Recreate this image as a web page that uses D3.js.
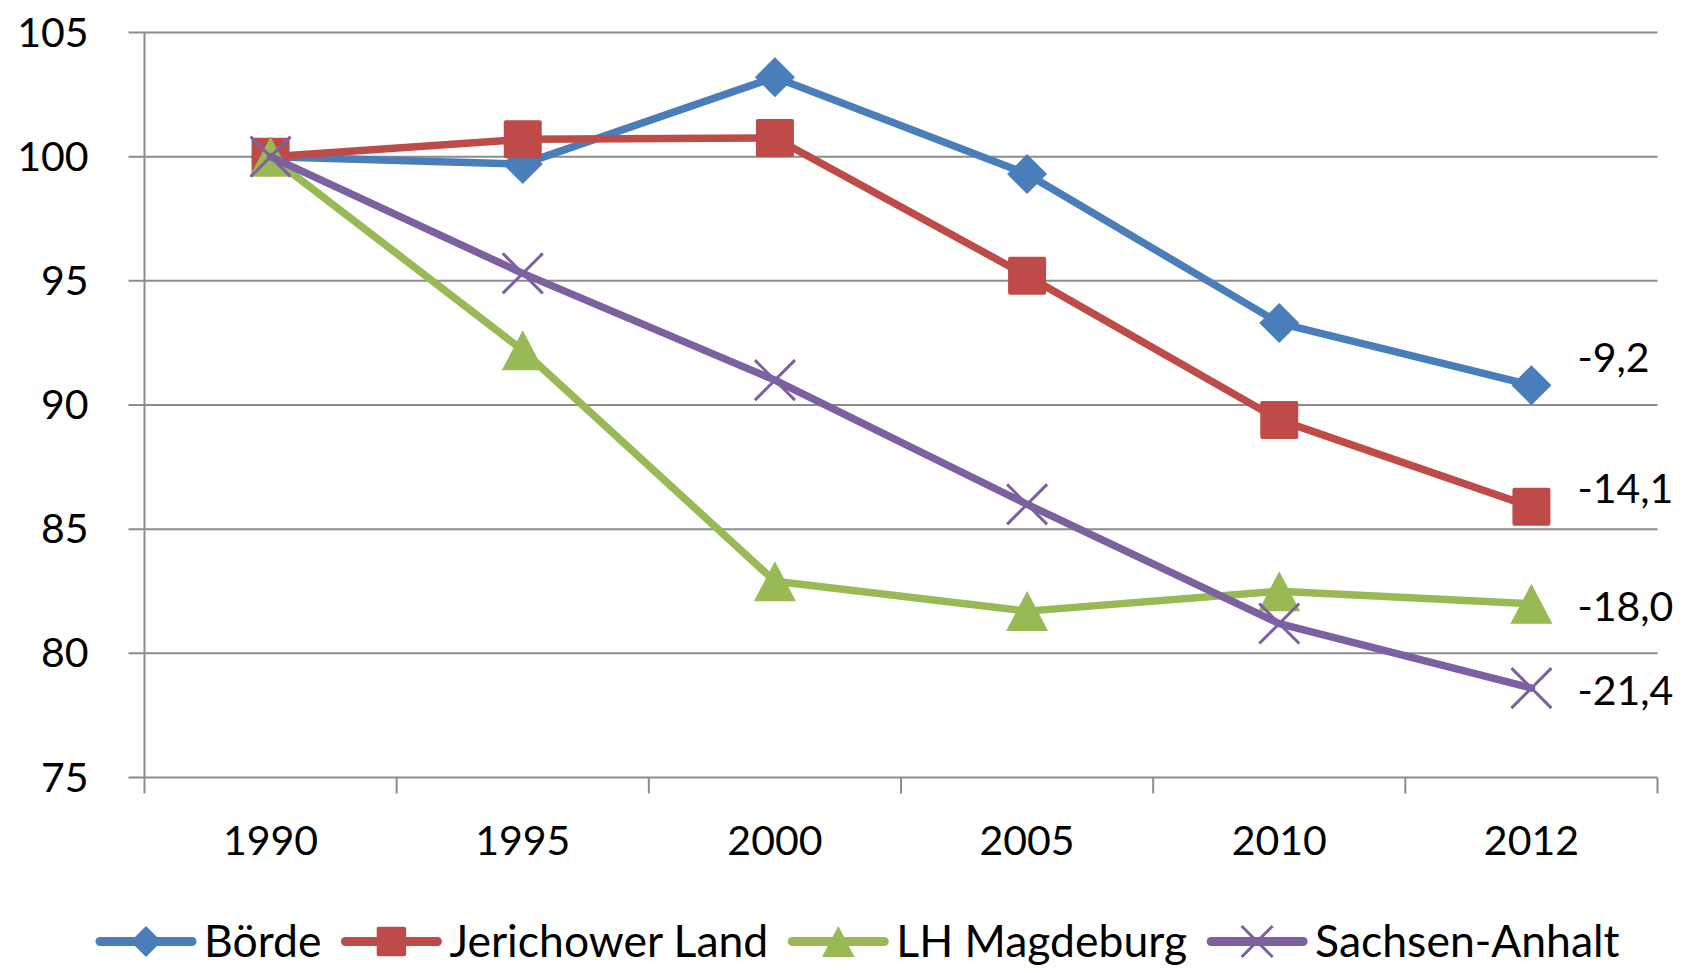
<!DOCTYPE html>
<html>
<head>
<meta charset="utf-8">
<script src="https://cdnjs.cloudflare.com/ajax/libs/d3/7.8.5/d3.min.js"></script>
<style>
  html, body { margin: 0; padding: 0; background: #fff; }
  #chart { width: 1691px; height: 973px; }
  .chart text { font-family: Lato, "Open Sans", sans-serif; fill: #000; }
  .chart__axis .domain { display: none; }
</style>
</head>
<body>
<div id="chart"></div>
<script>
const years = ['1990', '1995', '2000', '2005', '2010', '2012'];
const seriesNames = ['Börde', 'Jerichower Land', 'LH Magdeburg', 'Sachsen-Anhalt'];
const boerde = [100, 99.7, 103.2, 99.3, 93.3, 90.8];
const jerichow = [100, 100.7, 100.75, 95.2, 89.4, 85.9];
const magdeburg = [100, 92.2, 82.9, 81.7, 82.5, 82.0];
const sachsenAnhalt = [100, 95.3, 91.0, 86.0, 81.2, 78.6];
const endLabels = ['-9,2', '-14,1', '-18,0', '-21,4'];
const yTicks = [75, 80, 85, 90, 95, 100, 105];

const colors = ['#4a7ebb', '#be4b48', '#98b954', '#7d60a0'];
const markers = ['diamond', 'square', 'triangle', 'cross'];
const values = [boerde, jerichow, magdeburg, sachsenAnhalt];

function visualize() {
  const margins = { top: 32.5, right: 33.5, bottom: 195.5, left: 144.5 };
  const canvasWidth = 1691;
  const canvasHeight = 973;
  const width = canvasWidth - margins.left - margins.right;
  const height = canvasHeight - margins.top - margins.bottom;

  const svg = d3.select('#chart')
    .append('svg')
    .attr('class', 'chart')
    .attr('width', canvasWidth)
    .attr('height', canvasHeight);

  const x = d3.scaleBand()
    .domain(years)
    .range([0, width]);
  const y = d3.scaleLinear()
    .domain([75, 105])
    .range([height, 0]);

  const chart = svg.append('g')
    .attr('transform', `translate(${margins.left}, ${margins.top})`);

  // gridlines
  chart.append('g')
    .selectAll('line')
    .data(yTicks)
    .enter()
    .append('line')
      .attr('x1', -16)
      .attr('x2', width)
      .attr('y1', d => y(d))
      .attr('y2', d => y(d))
      .attr('stroke', '#8c8c8c')
      .attr('stroke-width', 2);

  // y axis line
  chart.append('line')
    .attr('x1', 0).attr('x2', 0)
    .attr('y1', 0).attr('y2', height)
    .attr('stroke', '#8c8c8c')
    .attr('stroke-width', 2);

  // x ticks at category boundaries
  chart.append('g')
    .selectAll('line')
    .data(d3.range(years.length + 1))
    .enter()
    .append('line')
      .attr('x1', i => i * x.step())
      .attr('x2', i => i * x.step())
      .attr('y1', height)
      .attr('y2', height + 16)
      .attr('stroke', '#8c8c8c')
      .attr('stroke-width', 2);

  // y axis labels
  const axisY = d3.axisLeft(y).tickValues(yTicks).tickSize(0).tickPadding(56);
  chart.append('g')
    .attr('class', 'chart__axis chart__axis--y')
    .call(axisY)
    .selectAll('text')
      .attr('font-size', 41)
      .attr('dy', '0.33em');

  // x axis labels
  const axisX = d3.axisBottom(x).tickSize(0).tickPadding(48);
  chart.append('g')
    .attr('class', 'chart__axis chart__axis--x')
    .attr('transform', `translate(0, ${height})`)
    .call(axisX)
    .selectAll('text')
      .attr('font-size', 41)
      .attr('dy', '0.71em');

  chart.selectAll('.chart__axis .tick line').remove();

  const cx = d => x(d) + x.bandwidth() / 2;

  function marker(g, type, color, size) {
    const s = size / 2;
    if (type === 'diamond') {
      g.append('path')
        .attr('d', `M0,${-s}L${s},0L0,${s}L${-s},0Z`)
        .attr('fill', color);
    } else if (type === 'square') {
      g.append('rect')
        .attr('x', -s * 0.95).attr('y', -s * 0.95)
        .attr('width', s * 1.9).attr('height', s * 1.9)
        .attr('rx', 2)
        .attr('fill', color);
    } else if (type === 'triangle') {
      g.append('path')
        .attr('d', `M0,${-s}L${s * 1.05},${s}L${-s * 1.05},${s}Z`)
        .attr('fill', color);
    } else {
      g.append('path')
        .attr('d', `M${-s},${-s}L${s},${s}M${s},${-s}L${-s},${s}`)
        .attr('stroke', color)
        .attr('stroke-width', 3)
        .attr('fill', 'none');
    }
  }

  const line = d3.line()
    .x(d => cx(d.year))
    .y(d => y(d.value));

  values.forEach((vals, i) => {
    const pts = vals.map((v, j) => ({ year: years[j], value: v }));
    const g = chart.append('g').attr('class', 'chart__series');
    g.append('path')
      .datum(pts)
      .attr('d', line)
      .attr('fill', 'none')
      .attr('stroke', colors[i])
      .attr('stroke-width', 7.5)
      .attr('stroke-linejoin', 'round')
      .attr('stroke-linecap', 'round');
    g.selectAll('.chart__marker')
      .data(pts)
      .enter()
      .append('g')
        .attr('class', 'chart__marker')
        .attr('transform', d => `translate(${cx(d.year)}, ${y(d.value)})`)
        .each(function () { marker(d3.select(this), markers[i], colors[i], 40); });
  });

  // end value labels
  const labelShift = [-28, -19, 3, 2];
  chart.append('g')
    .selectAll('text')
    .data(endLabels)
    .enter()
    .append('text')
      .attr('x', cx(years[years.length - 1]) + 46)
      .attr('y', (d, i) => y(values[i][values[i].length - 1]) + labelShift[i])
      .attr('dy', '0.36em')
      .attr('font-size', 41)
      .text(d => d);

  // legend
  const legend = svg.append('g')
    .attr('class', 'chart__legend')
    .attr('transform', 'translate(96, 941.5)');
  let offset = 0;
  seriesNames.forEach((name, i) => {
    const item = legend.append('g').attr('transform', `translate(${offset}, 0)`);
    item.append('line')
      .attr('x1', 4).attr('x2', 96)
      .attr('stroke', colors[i])
      .attr('stroke-width', 9)
      .attr('stroke-linecap', 'round');
    const m = item.append('g').attr('transform', 'translate(50, 0)');
    marker(m, markers[i], colors[i], 31);
    const t = item.append('text')
      .attr('x', 108)
      .attr('dy', '0.35em')
      .attr('font-size', 44.5)
      .text(name);
    offset += 108 + t.node().getComputedTextLength() + 20;
  });
}

visualize();
</script>
</body>
</html>
